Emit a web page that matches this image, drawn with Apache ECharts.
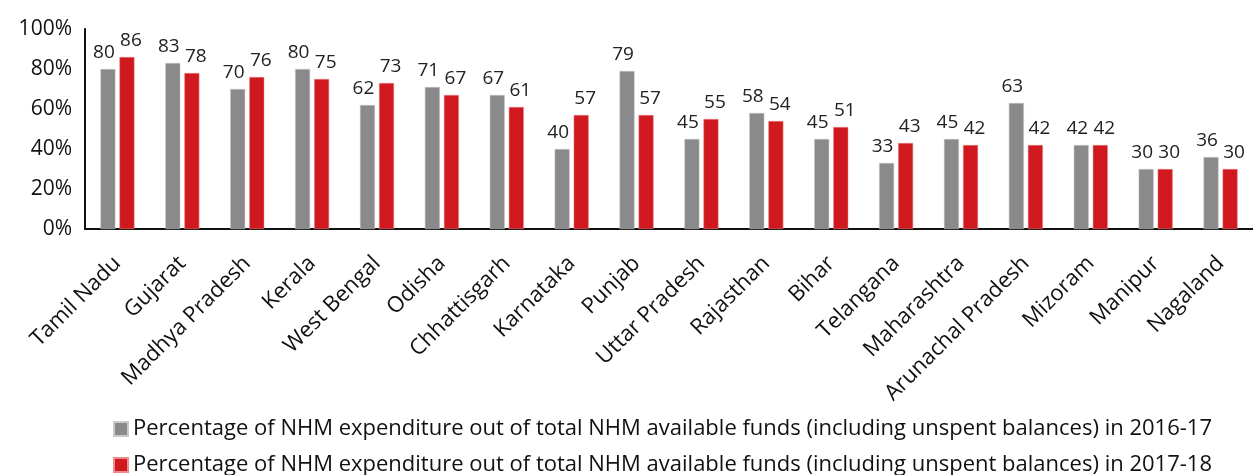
<!DOCTYPE html>
<html>
<head>
<meta charset="utf-8">
<script src="https://cdn.jsdelivr.net/npm/echarts@6/dist/echarts.min.js"></script>
<style>
  html, body { margin: 0; padding: 0; background: #fff; }
  #chart { width: 1253px; height: 475px; }
</style>
</head>
<body>
<div id="chart"></div>
<script>
const states = [
  "Tamil Nadu", "Gujarat", "Madhya Pradesh", "Kerala", "West Bengal", "Odisha",
  "Chhattisgarh", "Karnataka", "Punjab", "Uttar Pradesh", "Rajasthan", "Bihar",
  "Telangana", "Maharashtra", "Arunachal Pradesh", "Mizoram", "Manipur", "Nagaland"
];
const spend2016 = [80, 83, 70, 80, 62, 71, 67, 40, 79, 45, 58, 45, 33, 45, 63, 42, 30, 36];
const spend2017 = [86, 78, 76, 75, 73, 67, 61, 57, 57, 55, 54, 51, 43, 42, 42, 42, 30, 30];
const seriesNames = [
  "Percentage of NHM expenditure out of total NHM available funds (including unspent balances) in 2016-17",
  "Percentage of NHM expenditure out of total NHM available funds (including unspent balances) in 2017-18"
];

const font = "'Open Sans', sans-serif";
const chart = echarts.init(document.getElementById("chart"));

function makeLabel(dx) {
  return {
    show: true,
    position: "top",
    distance: 7,
    offset: [dx, 0],
    color: "#222",
    fontSize: 19,
    fontFamily: font
  };
}

function makeLegend(name, top) {
  return {
    orient: "horizontal",
    left: 108,
    top: top,
    itemWidth: 14,
    itemHeight: 14,
    itemGap: 8,
    icon: "rect",
    textStyle: { fontSize: 22, color: "#111", fontFamily: font },
    data: [name]
  };
}

chart.setOption({
  animation: false,
  grid: { left: 85, right: 0, top: 29, height: 200 },
  legend: [
    makeLegend(seriesNames[0], 413),
    makeLegend(seriesNames[1], 449)
  ],
  xAxis: {
    type: "category",
    data: states,
    axisLine: { lineStyle: { color: "#111", width: 2 } },
    axisTick: { show: false },
    axisLabel: {
      rotate: 45,
      interval: 0,
      margin: 31,
      fontSize: 22,
      color: "#111",
      fontFamily: font
    }
  },
  yAxis: {
    type: "value",
    min: 0,
    max: 100,
    interval: 20,
    axisLine: { show: true, lineStyle: { color: "#111", width: 2 } },
    axisTick: { show: false },
    splitLine: { show: false },
    axisLabel: {
      formatter: "{value}%",
      fontSize: 21,
      margin: 13,
      color: "#111",
      fontFamily: font
    }
  },
  series: [
    {
      name: seriesNames[0],
      type: "bar",
      data: spend2016,
      barWidth: 15,
      barGap: "27%",
      itemStyle: { color: "#8a8a8c", borderColor: "#c9c9c9", borderWidth: 0.5 },
      label: makeLabel(-4)
    },
    {
      name: seriesNames[1],
      type: "bar",
      data: spend2017,
      barWidth: 15,
      itemStyle: { color: "#d0191f", borderColor: "#ec8a8d", borderWidth: 0.5 },
      label: makeLabel(4)
    }
  ]
});
</script>
</body>
</html>
